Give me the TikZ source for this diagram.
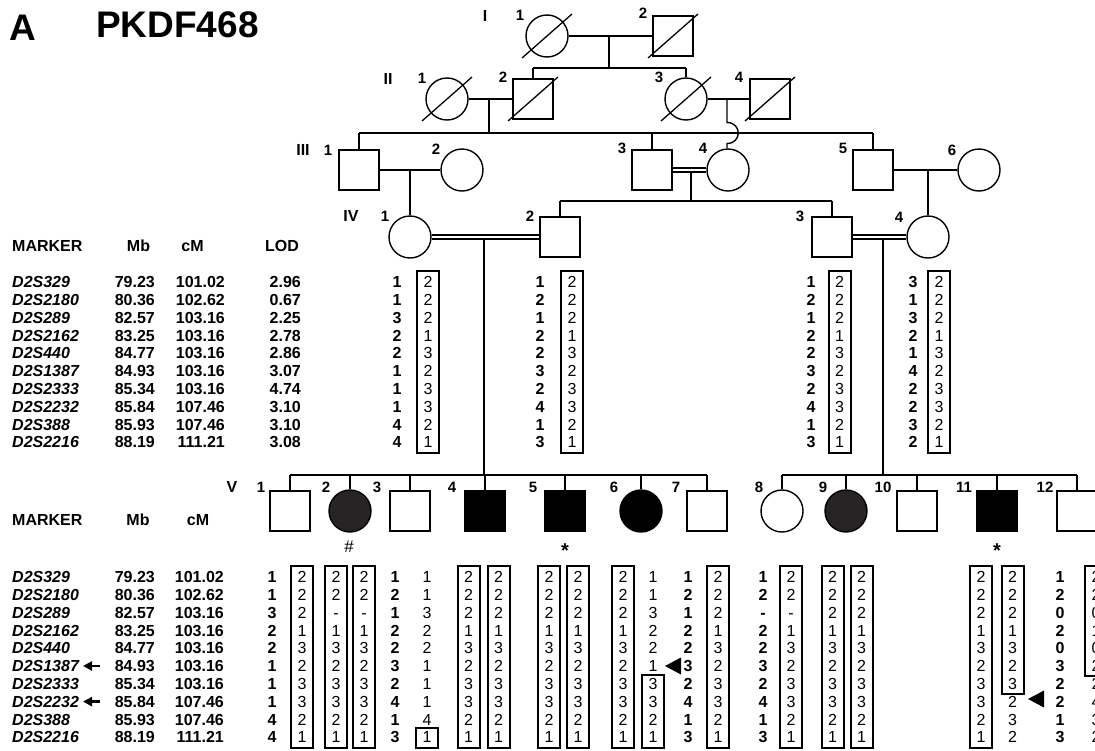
\documentclass[tikz,border=0pt]{standalone}
\usepackage{fontspec}
\setmainfont{Liberation Sans}
\usetikzlibrary{arrows.meta}
\definecolor{darkfill}{RGB}{40,35,36}
\newcommand{\hcol}[5]{%
  \foreach \v [count=\k from 0] in {#5} {
    \node[#4] (#1-\k) at (#2, #3+17.8*\k) {\v};
  }}
\newcommand{\hbx}[3]{\draw[hapbox] (#1-11,#2) rectangle (#1+11,#3);}
\begin{document}
\begin{tikzpicture}[x=1pt,y=-1pt,
  ln/.style={line width=1.4pt},
  male/.style={draw, rectangle, minimum size=40pt, inner sep=0pt, line width=1.4pt},
  female/.style={draw, circle, minimum size=42pt, inner sep=0pt, line width=1.4pt},
  slash/.style={line width=1.3pt},
  dbl/.style={line width=1.1pt},
  gen/.style={font=\fontsize{16}{16}\bfseries, inner sep=0pt},
  idl/.style={font=\fontsize{15}{15}\bfseries, inner sep=0pt},
  tab/.style={font=\fontsize{16}{16}\bfseries, inner sep=0pt, text height=11.5pt, text depth=0pt},
  mk/.style={tab, font=\fontsize{16}{16}\bfseries\itshape, anchor=west},
  hn/.style={tab, font=\fontsize{16}{16}\selectfont},
  hapbox/.style={line width=2pt},
  marr/.style={-{Triangle[length=9pt,width=9pt]}, line width=2.5pt},
]
\useasboundingbox (0,0) rectangle (1095,750);
% title
\node[font=\fontsize{37}{37}\bfseries, anchor=base west, inner sep=0pt] (lblA) at (9,40) {A};
\node[font=\fontsize{37}{37}\bfseries, anchor=base west, inner sep=0pt] (title) at (96,37) {PKDF468};

% ---------- generation I
\node[gen] (gI) at (485,16) {I};
\node[female] (I1) at (547,36) {};
\node[male] (I2) at (673,36) {};
\node[idl] (nI1) at (520,15) {1};
\node[idl] (nI2) at (643,13) {2};
\draw[slash] (I1.center) ++(-25,22) -- ++(50,-44);
\draw[slash] (I2.center) ++(-25,22) -- ++(50,-44);
\draw[ln] (I1) -- (I2);
\coordinate (mI) at (609,36);
\coordinate (sII) at (609,68);
\draw[ln] (mI) -- (sII);

% ---------- generation II
\node[gen] (gII) at (388,79) {II};
\node[female] (II1) at (447,99) {};
\node[male] (II2) at (533,99) {};
\node[female] (II3) at (686,99) {};
\node[male] (II4) at (770,99) {};
\node[idl] (nII1) at (422,78) {1};
\node[idl] (nII2) at (503,77) {2};
\node[idl] (nII3) at (659,77) {3};
\node[idl] (nII4) at (739,77) {4};
\foreach \p in {II1,II2,II3,II4} { \draw[slash] (\p.center) ++(-25,22) -- ++(50,-44); }
\draw[ln] (II2.north |- sII) -- (II3.north |- sII);
\draw[ln] (II2.north |- sII) -- (II2.north);
\draw[ln] (II3.north |- sII) -- (II3.north);
\draw[ln] (II1) -- (II2);
\draw[ln] (II3) -- (II4);
\coordinate (mII12) at (489,99);
\coordinate (sIII) at (489,133);
\draw[ln] (mII12) -- (sIII);
\coordinate (mII34) at (727,99);
\coordinate (hopA) at (727,122.5);
\coordinate (hopB) at (727,143.5);

% ---------- generation III
\node[gen] (gIII) at (303,150) {III};
\node[male] (III1) at (359,170) {};
\node[female] (III2) at (462,170) {};
\node[male] (III3) at (652,170) {};
\node[female] (III4) at (728,170) {};
\node[male] (III5) at (873,170) {};
\node[female] (III6) at (979,170) {};
\node[idl] (nIII1) at (328,150) {1};
\node[idl] (nIII2) at (436,149) {2};
\node[idl] (nIII3) at (622,148) {3};
\node[idl] (nIII4) at (703,148) {4};
\node[idl] (nIII5) at (843,148) {5};
\node[idl] (nIII6) at (952,150) {6};
\draw[ln] (III1.north |- sIII) -- (III5.north |- sIII);
\draw[ln] (III1.north |- sIII) -- (III1.north);
\draw[ln] (III3.north |- sIII) -- (III3.north);
\draw[ln] (III5.north |- sIII) -- (III5.north);
\draw[ln] (mII34) -- (hopA) .. controls (742,122.5) and (742,143.5) .. (hopB) -- (hopB |- III4.north);
\draw[ln] (III1) -- (III2);
\draw[ln] (III5) -- (III6);
\draw[dbl] ([yshift=2pt]III3.east) -- ([yshift=2pt]III4.west);
\draw[dbl] ([yshift=-2pt]III3.east) -- ([yshift=-2pt]III4.west);
\coordinate (mIII34) at (691,172);
\coordinate (sIV) at (691,201);
\draw[ln] (mIII34) -- (sIV);

% ---------- generation IV
\node[gen] (gIV) at (351,216) {IV};
\node[female] (IV1) at (410,237) {};
\node[male] (IV2) at (560,237) {};
\node[male] (IV3) at (832,237) {};
\node[female] (IV4) at (928,237) {};
\node[idl] (nIV1) at (385,216) {1};
\node[idl] (nIV2) at (530,216) {2};
\node[idl] (nIV3) at (800,216) {3};
\node[idl] (nIV4) at (899,217) {4};
\coordinate (mIII12) at (410,170);
\coordinate (mIII56) at (928,170);
\draw[ln] (mIII12) -- (IV1.north);
\draw[ln] (mIII56) -- (IV4.north);
\draw[ln] (IV2.north |- sIV) -- (IV3.north |- sIV);
\draw[ln] (IV2.north |- sIV) -- (IV2.north);
\draw[ln] (IV3.north |- sIV) -- (IV3.north);
\draw[dbl] ([yshift=2pt]IV1.east) -- ([yshift=2pt]IV2.west);
\draw[dbl] ([yshift=-2pt]IV1.east) -- ([yshift=-2pt]IV2.west);
\draw[dbl] ([yshift=2pt]IV3.east) -- ([yshift=2pt]IV4.west);
\draw[dbl] ([yshift=-2pt]IV3.east) -- ([yshift=-2pt]IV4.west);
\coordinate (mIV12) at (484,239);
\coordinate (sVa) at (484,475);
\coordinate (mIV34) at (883,239);
\coordinate (sVb) at (883,475);
\draw[ln] (mIV12) -- (sVa);
\draw[ln] (mIV34) -- (sVb);

% ---------- generation V
\node[gen] (gV) at (232,487) {V};
\node[male] (V1) at (290,511) {};
\node[female, fill=darkfill] (V2) at (350,511) {};
\node[male] (V3) at (410,511) {};
\node[male, fill=black] (V4) at (485,511) {};
\node[male, fill=black] (V5) at (565,511) {};
\node[female, fill=black] (V6) at (641,511) {};
\node[male] (V7) at (707,511) {};
\node[female] (V8) at (782,511) {};
\node[female, fill=darkfill] (V9) at (846,511) {};
\node[male] (V10) at (917,511) {};
\node[male, fill=black] (V11) at (997,511) {};
\node[male] (V12) at (1077,511) {};
\foreach \i/\x in {1/261,2/326,3/377,4/452,5/533,6/614,7/676,8/759,9/823,10/883,11/964,12/1045} {
  \node[idl] (nV\i) at (\x,487) {\i};
}
\draw[ln] (V1.north |- sVa) -- (V7.north |- sVa);
\draw[ln] (V8.north |- sVb) -- (V12.north |- sVb);
\foreach \i in {1,...,12} { \draw[ln] (V\i.north) -- (V\i.north |- sVa); }
\node[font=\fontsize{17}{17}\selectfont, inner sep=0pt] (hash) at (349,547) {\#};
\node[font=\fontsize{20}{20}\bfseries, inner sep=0pt] (star5) at (565,551) {*};
\node[font=\fontsize{20}{20}\bfseries, inner sep=0pt] (star11) at (997,551) {*};

% ---------- top table
\node[tab, anchor=west] (thM) at (12,245.5) {MARKER};
\node[tab] (thMb) at (138.5,245.5) {Mb};
\node[tab] (thcM) at (192.5,245.5) {cM};
\node[tab] (thLOD) at (282,245.5) {LOD};
\hcol{tmk}{12}{282}{mk}{D2S329,D2S2180,D2S289,D2S2162,D2S440,D2S1387,D2S2333,D2S2232,D2S388,D2S2216}
\hcol{tmb}{155}{282}{tab,anchor=east}{79.23,80.36,82.57,83.25,84.77,84.93,85.34,85.84,85.93,88.19}
\hcol{tcm}{225}{282}{tab,anchor=east}{101.02,102.62,103.16,103.16,103.16,103.16,103.16,107.46,107.46,111.21}
\hcol{tlod}{301}{282}{tab,anchor=east}{2.96,0.67,2.25,2.78,2.86,3.07,4.74,3.10,3.10,3.08}

\hcol{h1b}{397}{282}{tab}{1,1,3,2,2,1,1,1,4,4}
\hcol{h1n}{428}{282}{hn}{2,2,2,1,3,2,3,3,2,1}
\hbx{428}{271}{453}
\hcol{h2b}{540}{282}{tab}{1,2,1,2,2,3,2,4,1,3}
\hcol{h2n}{572}{282}{hn}{2,2,2,1,3,2,3,3,2,1}
\hbx{572}{271}{453}
\hcol{h3b}{811}{282}{tab}{1,2,1,2,2,3,2,4,1,3}
\hcol{h3n}{839.5}{282}{hn}{2,2,2,1,3,2,3,3,2,1}
\hbx{839.5}{271}{453}
\hcol{h4b}{913}{282}{tab}{3,1,3,2,1,4,2,2,3,2}
\hcol{h4n}{939}{282}{hn}{2,2,2,1,3,2,3,3,2,1}
\hbx{939}{271}{453}

% ---------- bottom table
\node[tab, anchor=west] (bhM) at (12,520) {MARKER};
\node[tab] (bhMb) at (138,520) {Mb};
\node[tab] (bhcM) at (198,520) {cM};
\hcol{bmk}{12}{577}{mk}{D2S329,D2S2180,D2S289,D2S2162,D2S440,D2S1387,D2S2333,D2S2232,D2S388,D2S2216}
\hcol{bmb}{155}{577}{tab,anchor=east}{79.23,80.36,82.57,83.25,84.77,84.93,85.34,85.84,85.93,88.19}
\hcol{bcm}{224}{577}{tab,anchor=east}{101.02,102.62,103.16,103.16,103.16,103.16,103.16,107.46,107.46,111.21}
\coordinate (arA1) at (100,666);
\coordinate (arA2) at (83,666);
\coordinate (arB1) at (100,701.6);
\coordinate (arB2) at (83,701.6);
\draw[marr] (arA1) -- (arA2);
\draw[marr] (arB1) -- (arB2);

% V-1
\hcol{v1b}{272}{577}{tab}{1,1,3,2,2,1,1,1,4,4}
\hcol{v1n}{302}{577}{hn}{2,2,2,1,3,2,3,3,2,1}
\hbx{302}{566}{748}
% V-2
\hcol{v2a}{336}{577}{hn}{2,2,-,1,3,2,3,3,2,1}
\hbx{336}{566}{748}
\hcol{v2b}{364}{577}{hn}{2,2,-,1,3,2,3,3,2,1}
\hbx{364}{566}{748}
% V-3
\hcol{v3b}{395}{577}{tab}{1,2,1,2,2,3,2,4,1,3}
\hcol{v3n}{427}{577}{hn}{1,1,3,2,2,1,1,1,4,1}
\draw[hapbox] (416,728) rectangle (438,748);
% V-4
\hcol{v4a}{468.5}{577}{hn}{2,2,2,1,3,2,3,3,2,1}
\hbx{468.5}{566}{748}
\hcol{v4b}{498.5}{577}{hn}{2,2,2,1,3,2,3,3,2,1}
\hbx{498.5}{566}{748}
% V-5
\hcol{v5a}{549}{577}{hn}{2,2,2,1,3,2,3,3,2,1}
\hbx{549}{566}{748}
\hcol{v5b}{578}{577}{hn}{2,2,2,1,3,2,3,3,2,1}
\hbx{578}{566}{748}
% V-6
\hcol{v6a}{623}{577}{hn}{2,2,2,1,3,2,3,3,2,1}
\hbx{623}{566}{748}
\hcol{v6n}{653}{577}{hn}{1,1,3,2,2,1,3,3,2,1}
\draw[hapbox] (642,675) rectangle (664,748);
\fill (665,666) -- (681,657.5) -- (681,674.5) -- cycle;
% V-7
\hcol{v7b}{688}{577}{tab}{1,2,1,2,2,3,2,4,1,3}
\hcol{v7n}{718}{577}{hn}{2,2,2,1,3,2,3,3,2,1}
\hbx{718}{566}{748}
% V-8
\hcol{v8b}{763}{577}{tab}{1,2,-,2,2,3,2,4,1,3}
\hcol{v8n}{791}{577}{hn}{2,2,-,1,3,2,3,3,2,1}
\hbx{791}{566}{748}
% V-9
\hcol{v9a}{832.5}{577}{hn}{2,2,2,1,3,2,3,3,2,1}
\hbx{832.5}{566}{748}
\hcol{v9b}{861.5}{577}{hn}{2,2,2,1,3,2,3,3,2,1}
\hbx{861.5}{566}{748}
% V-11
\hcol{v11a}{981}{577}{hn}{2,2,2,1,3,2,3,3,2,1}
\hbx{981}{566}{748}
\hcol{v11n}{1012.5}{577}{hn}{2,2,2,1,3,2,3,2,3,2}
\draw[hapbox] (1001.5,566) rectangle (1023.5,694);
\fill (1028,699) -- (1044,690.5) -- (1044,707.5) -- cycle;
% V-12
\hcol{v12b}{1060}{577}{tab}{1,2,0,2,0,3,2,2,1,3}
\hcol{v12n}{1096}{577}{hn}{2,2,0,1,0,2,2,4,3,2}
\draw[hapbox] (1085,566) rectangle (1107,676);
\end{tikzpicture}
\end{document}
